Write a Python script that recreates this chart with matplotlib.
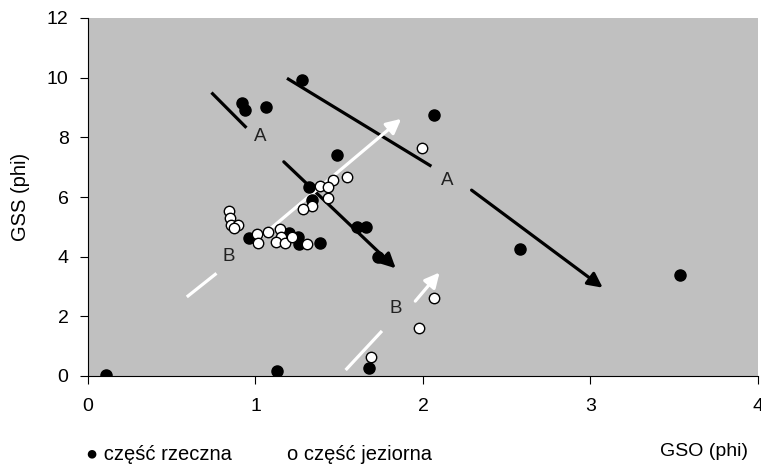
import matplotlib
matplotlib.use('Agg')
import matplotlib.pyplot as plt

plt.rcParams['font.family'] = ['Liberation Sans', 'DejaVu Sans']

# część rzeczna (filled)
rz_x = [0.107, 1.127, 1.68, 1.28, 0.918, 0.936, 1.061, 2.063, 1.489, 1.318, 1.34,
        0.962, 1.20, 1.254, 1.26, 1.387, 1.606, 1.662, 1.731, 2.58, 3.534]
rz_y = [0.03, 0.17, 0.28, 9.93, 9.14, 8.92, 9.02, 8.75, 7.41, 6.34, 5.9,
        4.63, 4.78, 4.67, 4.42, 4.46, 5.0, 5.0, 4.0, 4.25, 3.39]

# część jeziorna (open)
jz_x = [1.996, 1.548, 1.383, 1.463, 1.433, 1.433, 1.338, 1.282,
        0.843, 0.847, 0.851, 0.897, 0.873, 1.006, 1.016, 1.075, 1.145,
        1.155, 1.121, 1.175, 1.215, 1.31, 2.063, 1.978, 1.691]
jz_y = [7.63, 6.66, 6.38, 6.56, 6.33, 5.97, 5.70, 5.59,
        5.54, 5.29, 5.06, 5.06, 4.95, 4.75, 4.47, 4.84, 4.92,
        4.67, 4.50, 4.47, 4.67, 4.41, 2.62, 1.60, 0.65]

# trend arrows: tail segment, head segment, label position
arrows = [
    # A big
    dict(c='black', seg=[(1.188, 9.98), (2.05, 7.03)], head=[(2.29, 6.23), (3.073, 2.96)], lab=(2.147, 6.54), t='A'),
    # A small
    dict(c='black', seg=[(0.737, 9.5), (0.946, 8.32)], head=[(1.169, 7.18), (1.837, 3.61)], lab=(1.026, 8.02), t='A'),
    # B big
    dict(c='white', seg=[(0.59, 2.65), (0.767, 3.44)], head=[(0.986, 4.45), (1.87, 8.62)], lab=(0.84, 3.99), t='B'),
    # B small
    dict(c='white', seg=[(1.538, 0.2), (1.755, 1.51)], head=[(1.954, 2.51), (2.099, 3.47)], lab=(1.837, 2.27), t='B'),
]

fig = plt.figure(figsize=(7.61, 4.66), dpi=100)
ax = fig.add_axes([88/761, 1-376/466, 670/761, 358/466])
ax.set_facecolor('#c0c0c0')

for a in arrows:
    (x0, y0), (x1, y1) = a['seg']
    ax.plot([x0, x1], [y0, y1], color=a['c'], lw=2.3, solid_capstyle='butt', zorder=2)
    ax.annotate('', xy=a['head'][1], xytext=a['head'][0],
                arrowprops=dict(arrowstyle='-|>', color=a['c'], lw=2.3,
                                mutation_scale=22, shrinkA=0, shrinkB=0), zorder=2)
    ax.text(a['lab'][0], a['lab'][1], a['t'], fontsize=13.5, ha='center', va='center', color='#222222')

ax.plot(rz_x, rz_y, 'o', color='black', ms=8, zorder=3)
ax.plot(jz_x, jz_y, 'o', mfc='white', mec='black', mew=1.0, ms=7.5, zorder=4)

ax.set_xlim(0, 4)
ax.set_ylim(0, 12)
ax.set_xticks([0, 1, 2, 3, 4])
ax.set_yticks(range(0, 13, 2))
ax.spines['top'].set_visible(False)
ax.spines['right'].set_visible(False)
ax.tick_params(direction='out', length=6, width=0.8, labelsize=14, pad=10)
ax.tick_params(axis='y', pad=8)
ax.set_ylabel('GSS (phi)', fontsize=14.5, labelpad=12)

fig.text(704/761, 1-451/466, 'GSO (phi)', fontsize=14, ha='center', va='center')
fig.text(86/761, 1-455/466, '● część rzeczna', fontsize=14.5, ha='left', va='center')
fig.text(287/761, 1-455/466, 'o część jeziorna', fontsize=14.5, ha='left', va='center')

fig.savefig('out.png', dpi=100)
